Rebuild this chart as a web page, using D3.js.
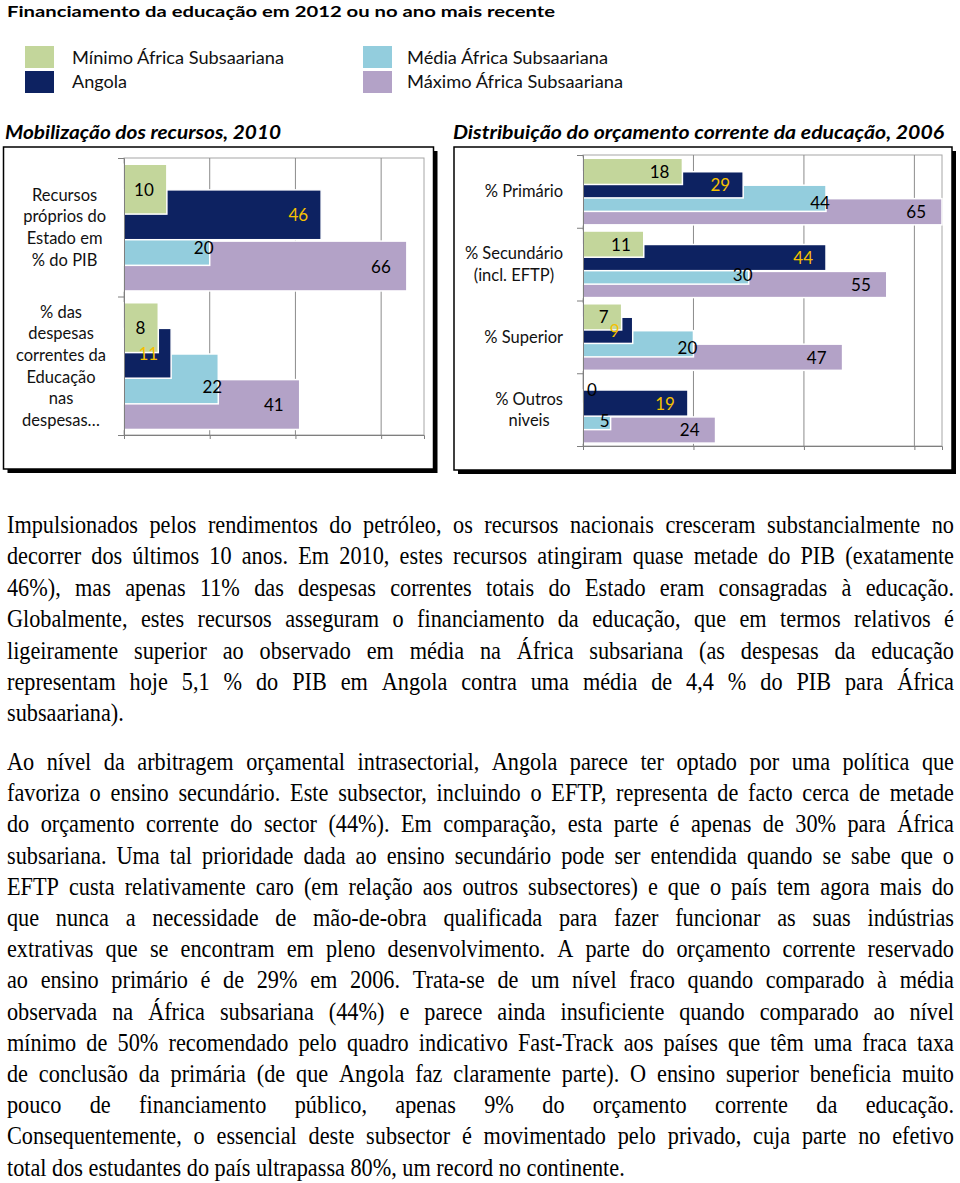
<!DOCTYPE html>
<html><head><meta charset="utf-8">
<script src="https://cdn.jsdelivr.net/npm/d3@7"></script>
<style>body{margin:0;background:#fff}svg{display:block}</style>
</head><body><svg id="c" width="960" height="1183"></svg>
<script>
// ---------- DATA ----------
const seriesNames = ["Mínimo África Subsaariana", "Angola", "Média África Subsaariana", "Máximo África Subsaariana"];
const seriesColors = ["#c3d69b", "#0d2261", "#93cddd", "#b3a2c7"];
const labelColors = ["#000", "#f5c000", "#000", "#000"];

const leftTitle = "Mobilização dos recursos, 2010";
const leftCategories = [["Recursos", "próprios do", "Estado em", "% do PIB"], ["% das", "despesas", "correntes da", "Educação", "nas", "despesas…"]];
const leftMin = [10, 8];
const leftAngola = [46, 11];
const leftMedia = [20, 22];
const leftMax = [66, 41];
const leftTicks = [0, 20, 40, 60];
const leftAxisMax = 70;

const rightTitle = "Distribuição do orçamento corrente da educação, 2006";
const rightCategories = [["% Primário"], ["% Secundário", "(incl. EFTP)"], ["% Superior"], ["% Outros", "niveis"]];
const rightMin = [18, 11, 7, 0];
const rightAngola = [29, 44, 9, 19];
const rightMedia = [44, 30, 20, 5];
const rightMax = [65, 55, 47, 24];
const rightTicks = [0, 20, 40, 60];
const rightAxisMax = 65;

const mainTitle = "Financiamento da educação em 2012 ou no ano mais recente";

const para1 = [
"Impulsionados pelos rendimentos do petróleo, os recursos nacionais cresceram substancialmente no",
"decorrer dos últimos 10 anos. Em 2010, estes recursos atingiram quase metade do PIB (exatamente",
"46%), mas apenas 11% das despesas correntes totais do Estado eram consagradas à educação.",
"Globalmente, estes recursos asseguram o financiamento da educação, que em termos relativos é",
"ligeiramente superior ao observado em média na África subsariana (as despesas da educação",
"representam hoje 5,1 % do PIB em Angola contra uma média de 4,4 % do PIB para África",
"subsaariana)."
];
const para2 = [
"Ao nível da arbitragem orçamental intrasectorial, Angola parece ter optado por uma política que",
"favoriza o ensino secundário. Este subsector, incluindo o EFTP, representa de facto cerca de metade",
"do orçamento corrente do sector (44%). Em comparação, esta parte é apenas de 30% para África",
"subsariana. Uma tal prioridade dada ao ensino secundário pode ser entendida quando se sabe que o",
"EFTP custa relativamente caro (em relação aos outros subsectores) e que o país tem agora mais do",
"que nunca a necessidade de mão-de-obra qualificada para fazer funcionar as suas indústrias",
"extrativas que se encontram em pleno desenvolvimento. A parte do orçamento corrente reservado",
"ao ensino primário é de 29% em 2006. Trata-se de um nível fraco quando comparado à média",
"observada na África subsariana (44%) e parece ainda insuficiente quando comparado ao nível",
"mínimo de 50% recomendado pelo quadro indicativo Fast-Track aos países que têm uma fraca taxa",
"de conclusão da primária (de que Angola faz claramente parte). O ensino superior beneficia muito",
"pouco de financiamento público, apenas 9% do orçamento corrente da educação.",
"Consequentemente, o essencial deste subsector é movimentado pelo privado, cuja parte no efetivo",
"total dos estudantes do país ultrapassa 80%, um record no continente."
];

// ---------- DRAW ----------
const sans = "Lato, 'Open Sans', sans-serif";
const serif = "'Liberation Serif', 'Times New Roman', serif";
const svg = d3.select("#c");

// title
svg.append("text").attr("x", 7).attr("y", 17).attr("font-family", sans).attr("font-weight", "bold")
  .attr("font-size", 16).attr("textLength", 548).attr("lengthAdjust", "spacingAndGlyphs").text(mainTitle);

// legend
const legendPos = [[25, 46, 72, 64], [25, 71, 72, 88], [363, 46, 407, 64], [363, 71, 407, 88]];
const legendLen = [212, 55, 201, 216];
seriesNames.forEach((n, i) => {
  const p = legendPos[i];
  svg.append("rect").attr("x", p[0]).attr("y", p[1]).attr("width", 29).attr("height", 22).attr("fill", seriesColors[i]);
  svg.append("text").attr("x", p[2]).attr("y", p[3]).attr("font-family", sans).attr("font-size", 17)
    .attr("fill", "#111").attr("textLength", legendLen[i]).attr("lengthAdjust", "spacingAndGlyphs").text(n);
});

function panel(cfg) {
  const g = svg.append("g");
  const [bx, by, bw, bh] = cfg.box;
  g.append("rect").attr("x", bx + 4).attr("y", by + 4).attr("width", bw).attr("height", bh).attr("fill", "#000");
  g.append("rect").attr("x", bx).attr("y", by).attr("width", bw).attr("height", bh).attr("fill", "#fff")
    .attr("stroke", "#000").attr("stroke-width", 1.5);
  g.append("text").attr("x", cfg.title[0]).attr("y", cfg.title[1]).attr("font-family", sans)
    .attr("font-weight", "bold").attr("font-style", "italic").attr("font-size", 18)
    .attr("textLength", cfg.title[2]).attr("lengthAdjust", "spacingAndGlyphs").text(cfg.titleText);

  const [x0, x1, y0, y1] = cfg.plot;
  const n = cfg.categories.length;
  const x = d3.scaleLinear().domain([0, cfg.max]).range([x0, x1]);
  const y = d3.scaleBand().domain(d3.range(n)).range([y0, y1]).padding(0);
  const yb = d3.scaleLinear().domain([0, n]).range([y0, y1]);
  const band = y.bandwidth();

  // plot border
  g.append("rect").attr("x", x0).attr("y", y0).attr("width", x1 - x0).attr("height", y1 - y0)
    .attr("fill", "none").attr("stroke", "#a6a6a6").attr("stroke-width", 1);
  // gridlines
  g.selectAll(".grid").data(cfg.ticks.filter(t => t > 0)).join("line")
    .attr("x1", d => x(d)).attr("x2", d => x(d)).attr("y1", y0).attr("y2", y1)
    .attr("stroke", "#8c8c8c").attr("stroke-width", 1);

  // bars: draw order max, media, angola, min (min on top)
  const series = cfg.series;
  const off = s => band * (0.045 + s * 0.185);
  const bh2 = band * 0.36;
  [3, 2, 1, 0].forEach(s => {
    g.selectAll(".bar" + s).data(series[s]).join("rect")
      .attr("x", x(0)).attr("y", (d, i) => y(i) + off(s))
      .attr("width", d => Math.max(0, x(d) - x(0))).attr("height", bh2)
      .attr("fill", seriesColors[s]).attr("stroke", d => d > 0 ? "#fff" : "none").attr("stroke-width", 1.5);
  });

  // axes
  const ax = g.append("g").attr("transform", `translate(${x0},0)`)
    .call(d3.axisLeft(yb).tickValues(d3.range(n + 1)).tickSize(6).tickFormat(""));
  const bx2 = g.append("g").attr("transform", `translate(0,${y1})`)
    .call(d3.axisBottom(x).tickValues(cfg.ticks).tickSize(4).tickFormat(""));
  [ax, bx2].forEach(a => { a.selectAll("path,line").attr("stroke", "#7f7f7f"); });

  // data labels
  [0, 1, 2, 3].forEach(s => {
    series[s].forEach((v, i) => {
      const cy = y(i) + off(s) + bh2 / 2 + (s === 2 ? bh2 * 0.15 : 0);
      const t = g.append("text").attr("font-family", sans).attr("font-size", 17)
        .attr("fill", labelColors[s]).attr("dominant-baseline", "central").attr("y", cy).text(v);
      const w = t.node().getComputedTextLength();
      if (s === 2) {
        t.attr("text-anchor", "middle").attr("x", x(v) - 6);
      } else if (x(v) - 13 - w < x0) {
        t.attr("text-anchor", "start").attr("x", x0 + 4);
      } else {
        t.attr("text-anchor", "end").attr("x", x(v) - (s === 3 ? 16 : 13));
      }
    });
  });

  // category labels (right aligned block, centered lines)
  const lh = 21.7;
  cfg.categories.forEach((lines, i) => {
    const cy = y(i) + band / 2;
    const ts = lines.map((l, k) => g.append("text").attr("font-family", sans).attr("font-size", 16.5)
      .attr("fill", "#111").attr("text-anchor", "middle").attr("dominant-baseline", "central")
      .attr("y", cy + (k - (lines.length - 1) / 2) * lh).text(l));
    const mw = d3.max(ts, t => t.node().getComputedTextLength());
    ts.forEach(t => t.attr("x", cfg.labelRight - mw / 2));
  });
}

panel({
  box: [3.5, 147, 430, 322], title: [5, 139, 276], titleText: leftTitle,
  plot: [124, 424, 158, 435], max: leftAxisMax, ticks: leftTicks,
  categories: leftCategories, series: [leftMin, leftAngola, leftMedia, leftMax], labelRight: 106
});
panel({
  box: [454, 147, 498, 323], title: [453, 139, 491], titleText: rightTitle,
  plot: [583, 942, 155, 446], max: rightAxisMax, ticks: rightTicks,
  categories: rightCategories, series: [rightMin, rightAngola, rightMedia, rightMax], labelRight: 563
});

// body text, justified
const body = svg.append("g");
const fs = 25, sx = 0.89, left = 7, right = 954;
function drawPara(lines, yStart, lhgt) {
  lines.forEach((line, li) => {
    const words = line.split(" ");
    const yy = yStart + li * lhgt;
    const g = body.append("g").attr("transform", `translate(${left},${yy}) scale(${sx},1)`);
    const ts = words.map(w => g.append("text").attr("font-family", serif).attr("font-size", fs).attr("fill", "#000").text(w));
    const widths = ts.map(t => t.node().getComputedTextLength());
    const sum = d3.sum(widths);
    const Wl = (right - left) / sx;
    const last = li === lines.length - 1;
    let gap = last ? fs * 0.25 : (Wl - sum) / Math.max(1, words.length - 1);
    let k = 1;
    if (gap < fs * 0.12) { gap = fs * 0.12; k = Wl / (sum + gap * (words.length - 1)); }
    let xx = 0;
    ts.forEach((t, i) => { t.attr("x", xx); xx += widths[i] + gap; });
    if (k !== 1) g.attr("transform", `translate(${left},${yy}) scale(${sx * k},1)`);
  });
}
drawPara(para1, 533, 31.4);
drawPara(para2, 770, 31.2);
</script>
</body></html>
